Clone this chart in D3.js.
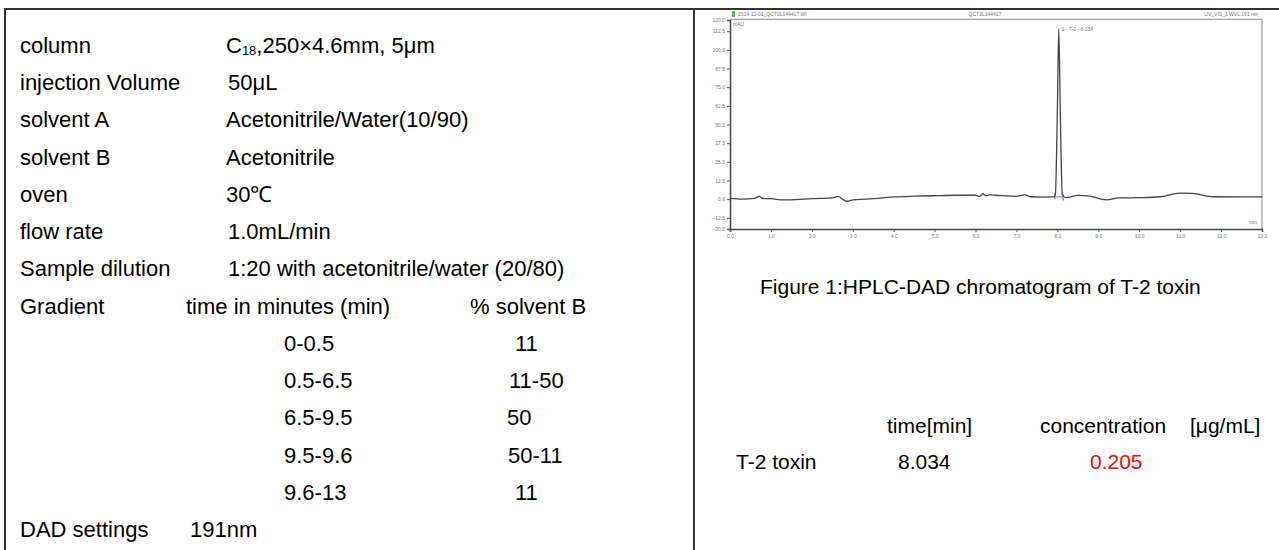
<!DOCTYPE html>
<html>
<head>
<meta charset="utf-8">
<script src="https://cdn.jsdelivr.net/npm/d3@7"></script>
<style>
  body { margin: 0; background: #fff; }
  svg { display: block; font-family: "Liberation Sans", Arial, sans-serif; }
</style>
</head>
<body>
<svg width="1279" height="550"></svg>
<script>
const WIDTH = 1279;
const HEIGHT = 550;

// method parameters (left table)
var paramNames = ['column', 'injection Volume', 'solvent A', 'solvent B', 'oven', 'flow rate', 'Sample dilution'];
var paramValues = ['C|18|,250×4.6mm, 5μm', '50μL', 'Acetonitrile/Water(10/90)', 'Acetonitrile', '30℃', '1.0mL/min', '1:20 with acetonitrile/water (20/80)'];
var gradientHeader = ['Gradient', 'time in minutes (min)', '% solvent B'];
var gradientTimes = ['0-0.5', '0.5-6.5', '6.5-9.5', '9.5-9.6', '9.6-13'];
var gradientB = ['11', '11-50', '50', '50-11', '11'];
var dadSetting = ['DAD settings', '191nm'];

// result table (right)
var figureCaption = 'Figure 1:HPLC-DAD chromatogram of T-2 toxin';
var resultHeaders = ['time[min]', 'concentration', '[μg/mL]'];
var resultRow = ['T-2 toxin', '8.034', '0.205'];

// chromatogram trace (min, mAU)
var traceTime = [0.0, 0.3, 0.6, 0.72, 0.78, 0.85, 1.0, 1.3, 1.6, 2.0, 2.5, 2.65, 2.75, 2.85, 3.0, 3.3, 3.6, 4.0, 4.5, 5.0, 5.5, 6.0, 6.1, 6.18, 6.25, 6.35, 6.5, 7.0, 7.2, 7.35, 7.6, 7.9, 7.95, 8.0, 8.034, 8.07, 8.12, 8.2, 8.5, 8.8, 9.0, 9.2, 9.5, 10.0, 10.5, 11.0, 11.3, 11.8, 12.5, 13.0];
var traceMAU = [0.5, 0.0, 0.5, 1.8, 0.6, 0.4, 0.3, -0.5, -0.3, 0.3, 0.8, 1.8, 0.0, -1.4, -0.5, 0.0, 0.5, 1.5, 2.0, 2.3, 2.6, 2.6, 1.8, 3.6, 2.4, 2.8, 2.6, 1.9, 2.9, 1.6, 1.4, 1.5, 3.0, 60, 114, 60, 3.0, 1.0, 2.5, 2.0, 0.5, -0.5, 0.8, 1.0, 1.6, 4.0, 3.8, 1.6, 1.5, 1.5];
var yTicks = [-12.5, 0.0, 12.5, 25.0, 37.5, 50.0, 62.5, 75.0, 87.5, 100.0, 112.5];
var yEnds = [-20.0, 120.0];
var peakLabel = '1 - T-2 - 8.034';
var headerTexts = ['2014-12-01_QCT2L144417.WI', 'QCT2L144417', 'UV_VIS_1 WVL:191 nm'];

var svg = d3.select('svg');

// frame lines
svg.append('line').attr('x1', 4).attr('x2', WIDTH).attr('y1', 9).attr('y2', 9)
    .attr('stroke', '#333').attr('stroke-width', 2);
svg.append('line').attr('x1', 5).attr('x2', 5).attr('y1', 9).attr('y2', HEIGHT)
    .attr('stroke', '#333').attr('stroke-width', 2);
svg.append('line').attr('x1', 694).attr('x2', 694).attr('y1', 9).attr('y2', HEIGHT)
    .attr('stroke', '#333').attr('stroke-width', 2);

// left table rows (baselines)
var rowY = d3.scaleLinear().domain([0, 13]).range([53, 537]);
var left = svg.append('g').attr('font-size', 22).attr('fill', '#000');
var valueX = [226, 228, 226, 226, 226, 228, 228];

left.selectAll('text.name').data(paramNames).enter().append('text')
    .attr('class', 'name').attr('x', 20).attr('y', function(d, i){ return rowY(i); })
    .text(function(d){ return d; });

left.selectAll('text.value').data(paramValues).enter().append('text')
    .attr('class', 'value').attr('x', function(d, i){ return valueX[i]; })
    .attr('y', function(d, i){ return rowY(i); })
    .each(function(d){
        var parts = d.split('|');
        var t = d3.select(this);
        if (parts.length === 3) {
            t.append('tspan').text(parts[0]);
            t.append('tspan').attr('font-size', 13).attr('dy', 2).text(parts[1]);
            t.append('tspan').attr('dy', -2).text(parts[2]);
        } else {
            t.text(d);
        }
    });

var headX = [20, 186, 470];
left.selectAll('text.ghead').data(gradientHeader).enter().append('text')
    .attr('x', function(d, i){ return headX[i]; }).attr('y', rowY(7))
    .text(function(d){ return d; });

left.selectAll('text.gtime').data(gradientTimes).enter().append('text')
    .attr('x', 284).attr('y', function(d, i){ return rowY(8 + i); })
    .text(function(d){ return d; });

var bX = [515, 509, 507, 508, 515];
left.selectAll('text.gb').data(gradientB).enter().append('text')
    .attr('x', function(d, i){ return bX[i]; }).attr('y', function(d, i){ return rowY(8 + i); })
    .text(function(d){ return d; });

left.selectAll('text.dad').data(dadSetting).enter().append('text')
    .attr('x', function(d, i){ return i ? 190 : 20; }).attr('y', rowY(13))
    .text(function(d){ return d; });

// right side texts
var right = svg.append('g').attr('font-size', 21).attr('fill', '#000');
right.append('text').attr('x', 760).attr('y', 294).text(figureCaption);
var rhX = [887, 1040, 1190];
right.selectAll('text.rh').data(resultHeaders).enter().append('text')
    .attr('x', function(d, i){ return rhX[i]; }).attr('y', 433)
    .text(function(d){ return d; });
var rrX = [736, 898, 1090];
right.selectAll('text.rr').data(resultRow).enter().append('text')
    .attr('x', function(d, i){ return rrX[i]; }).attr('y', 469)
    .attr('fill', function(d, i){ return i === 2 ? '#ff0000' : '#000'; })
    .text(function(d){ return d; });

// chromatogram
var x = d3.scaleLinear().domain([0, 13]).range([730, 1262]);
var y = d3.scaleLinear().domain([-20, 120]).range([229, 20]);
var chrom = svg.append('g');

// plot frame (top/right)
chrom.append('path')
    .attr('d', 'M' + x(0) + ',' + y(120.5) + 'H' + x(13) + 'V' + y(-20))
    .attr('fill', 'none').attr('stroke', '#888').attr('stroke-width', 1);

// header strip
chrom.selectAll('text.hdr').data(headerTexts).enter().append('text')
    .attr('x', function(d, i){ return [738, 985, 1258][i]; })
    .attr('y', 16)
    .attr('text-anchor', function(d, i){ return ['start', 'middle', 'end'][i]; })
    .attr('font-size', 5).attr('fill', '#777')
    .text(function(d){ return d; });
chrom.append('rect').attr('x', 732).attr('y', 11).attr('width', 3).attr('height', 6).attr('fill', '#5fb35f');

chrom.append('text').attr('x', 733).attr('y', 26).attr('font-size', 5).attr('fill', '#777').text('mAU');
chrom.append('text').attr('x', 1257).attr('y', 224).attr('font-size', 5).attr('fill', '#777').attr('text-anchor', 'end').text('min');

// axes
var xAxis = d3.axisBottom(x).tickValues(d3.range(0, 13.01, 1)).tickFormat(d3.format('.1f')).tickSize(3).tickPadding(2);
var xMinor = d3.axisBottom(x).tickValues(d3.range(0, 13.01, 0.25)).tickFormat('').tickSize(2);
var gx = chrom.append('g').attr('transform', 'translate(0,' + y(-20) + ')');
gx.call(xMinor);
gx.call(xAxis);
gx.selectAll('text').attr('font-size', 5).attr('fill', '#777');

var yAxis = d3.axisLeft(y).tickValues(yTicks.concat(yEnds)).tickFormat(d3.format('.1f')).tickSize(3).tickPadding(2);
var yMinor = d3.axisLeft(y).tickValues(d3.range(-20, 120.1, 2.5)).tickFormat('').tickSize(2);
var gy = chrom.append('g').attr('transform', 'translate(' + x(0) + ',0)');
gy.call(yMinor);
gy.call(yAxis);
gy.selectAll('text').attr('font-size', 5).attr('fill', '#777');
chrom.selectAll('.domain').attr('stroke', '#444').attr('stroke-width', 1.5);
chrom.selectAll('.tick line').attr('stroke', '#555');

// peak integration baseline
chrom.append('line').attr('x1', x(7.95)).attr('x2', x(8.13)).attr('y1', y(1.5)).attr('y2', y(1.5))
    .attr('stroke', '#e05050').attr('stroke-width', 1);

// trace
var traceData = traceTime.map(function(t, i){ return [t, traceMAU[i]]; });
var line = d3.line().x(function(d){ return x(d[0]); }).y(function(d){ return y(d[1]); }).curve(d3.curveMonotoneX);
chrom.append('path').datum(traceData).attr('d', line)
    .attr('fill', 'none').attr('stroke', '#444').attr('stroke-width', 1.3);

// peak markers and label
chrom.append('line').attr('x1', x(7.94)).attr('x2', x(7.94)).attr('y1', y(0)).attr('y2', y(4))
    .attr('stroke', '#5050e0').attr('stroke-width', 1);
chrom.append('line').attr('x1', x(8.14)).attr('x2', x(8.14)).attr('y1', y(-1)).attr('y2', y(3))
    .attr('stroke', '#5050e0').attr('stroke-width', 1);
chrom.append('text').attr('x', x(8.034) + 3).attr('y', y(114) + 2)
    .attr('font-size', 5).attr('fill', '#777').text(peakLabel);
</script>
</body>
</html>
